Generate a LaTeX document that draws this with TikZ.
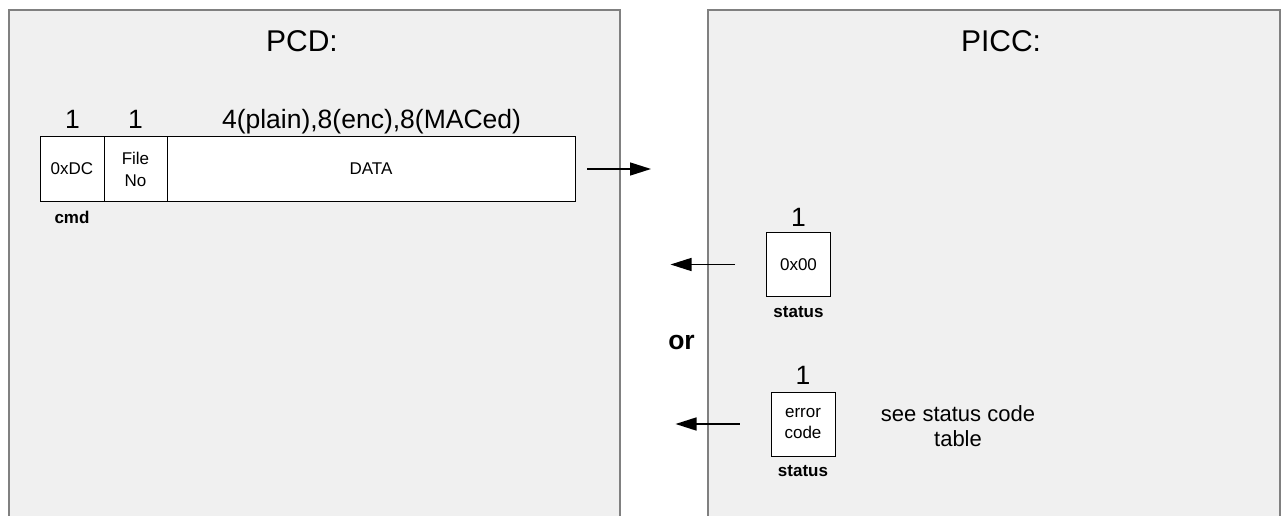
\documentclass[tikz,border=0pt]{standalone}
\usepackage{fontspec}
\setmainfont{Liberation Sans}
\usetikzlibrary{arrows.meta}
\definecolor{panelbg}{RGB}{240,240,240}
\definecolor{panelline}{RGB}{128,128,128}
\tikzset{
  panelborder/.style={draw=panelline, line width=2pt},
  field/.style={draw=black, fill=white, line width=1pt, inner sep=0pt, align=center,
    font=\fontsize{17}{22}\selectfont},
  titletext/.style={font=\fontsize{30}{36}\selectfont, anchor=base, inner sep=0pt},
  sizetext/.style={font=\fontsize{26.5}{30}\selectfont, anchor=base, inner sep=0pt},
  captext/.style={font=\bfseries\fontsize{17}{20}\selectfont, inner sep=0pt},
  notetext/.style={font=\fontsize{22}{25}\selectfont, align=center, inner sep=0pt},
  msg/.style={-{Triangle[length=21pt,width=13pt]}, line width=1.5pt},
}
\begin{document}
\begin{tikzpicture}[x=1pt,y=-1pt]
\useasboundingbox (0,0) rectangle (1288,516);
% panels
\fill[panelbg] (9,10) rectangle (620,516);
\draw[panelborder] (9,516) -- (9,10) -- (620,10) -- (620,516);
\fill[panelbg] (708,10) rectangle (1280,516);
\draw[panelborder] (708,516) -- (708,10) -- (1280,10) -- (1280,516);
% titles
\node[titletext] (pcd) at (302,51.5) {PCD:};
\node[titletext] (picc) at (1001,51.5) {PICC:};
% command frame
\node[field, minimum width=64pt, minimum height=64pt] (cmdbox) at (72,169) {0xDC};
\node[field, minimum width=63pt, minimum height=64pt] (filebox) at (135.5,169) {File\\No};
\node[field, minimum width=408pt, minimum height=64pt] (databox) at (371,169) {DATA};
\node[sizetext] (n1) at (72.5,129) {1};
\node[sizetext] (n2) at (135.5,129) {1};
\node[sizetext] (n3) at (371.5,129) {4(plain),8(enc),8(MACed)};
\node[captext] (cmdlbl) at (72,217) {cmd};
% arrow to PICC
\coordinate (a1s) at (587,169);
\coordinate (a1e) at (651,169);
\draw[msg] (a1s) -- (a1e);
% response ok
\node[sizetext] (n4) at (798.5,226) {1};
\node[field, minimum width=64pt, minimum height=64pt] (okbox) at (798.5,264.5) {0x00};
\node[captext] (st1) at (798.5,312) {status};
\coordinate (a2s) at (735,264.5);
\coordinate (a2e) at (670.5,264.5);
\draw[msg] (a2s) -- (a2e);
% or
\node[sizetext, font=\bfseries\fontsize{26.5}{30}\selectfont] (orlbl) at (681.5,349) {or};
% response error
\node[sizetext] (n5) at (803,384) {1};
\node[field, minimum width=64pt, minimum height=64pt, font=\fontsize{17}{21}\selectfont] (errbox) at (803,424) {error\\code};
\node[captext] (st2) at (803,471) {status};
\coordinate (a3s) at (739.5,424);
\coordinate (a3e) at (675.5,424);
\draw[msg] (a3s) -- (a3e);
\node[notetext] (note) at (958,426) {see status code\\table};
\end{tikzpicture}
\end{document}
